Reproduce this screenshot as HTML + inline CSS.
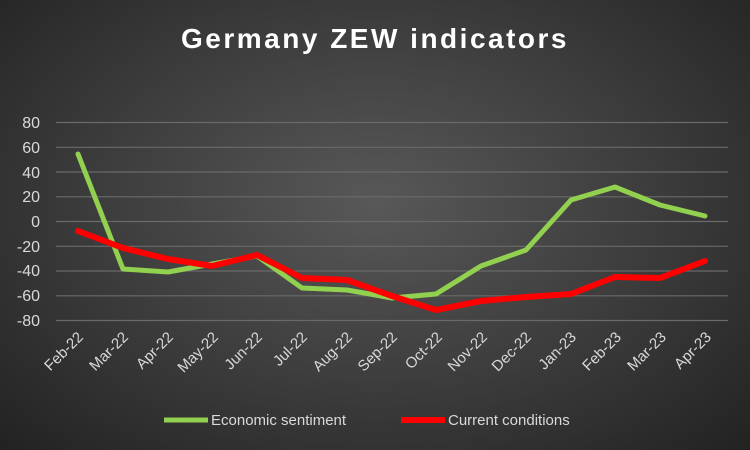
<!DOCTYPE html>
<html><head><style>
html,body{margin:0;padding:0;}
body{width:750px;height:450px;overflow:hidden;background:radial-gradient(ellipse at 50% 45%,#585858 0%,#3b3b3b 55%,#222 100%);font-family:"Liberation Sans",sans-serif;}
</style></head><body>
<svg width="750" height="450" xmlns="http://www.w3.org/2000/svg" style="position:absolute;left:0;top:0">
<text x="375" y="48" text-anchor="middle" fill="#fff" font-size="28" font-weight="bold" font-family="Liberation Sans" letter-spacing="2.5">Germany ZEW indicators</text>
<g stroke="#6a6a6a" stroke-width="1.2">
<line x1="56" x2="728" y1="122.5" y2="122.5"/><line x1="56" x2="728" y1="147.3" y2="147.3"/>
<line x1="56" x2="728" y1="172" y2="172"/><line x1="56" x2="728" y1="196.8" y2="196.8"/>
<line x1="56" x2="728" y1="221.5" y2="221.5"/><line x1="56" x2="728" y1="246.3" y2="246.3"/>
<line x1="56" x2="728" y1="271" y2="271"/><line x1="56" x2="728" y1="295.8" y2="295.8"/>
<line x1="56" x2="728" y1="320.5" y2="320.5"/>
</g>
<g fill="#d9d9d9" font-size="16" text-anchor="end" font-family="Liberation Sans">
<text x="40" y="128">80</text><text x="40" y="153">60</text><text x="40" y="178">40</text><text x="40" y="202">20</text><text x="40" y="227">0</text><text x="40" y="252">-20</text><text x="40" y="276">-40</text><text x="40" y="301">-60</text><text x="40" y="326">-80</text>
</g>
<g fill="#d9d9d9" font-size="15" text-anchor="end" font-family="Liberation Sans">
<text transform="translate(84,338) rotate(-45)">Feb-22</text>
<text transform="translate(129,338) rotate(-45)">Mar-22</text>
<text transform="translate(174,338) rotate(-45)">Apr-22</text>
<text transform="translate(219,338) rotate(-45)">May-22</text>
<text transform="translate(263,338) rotate(-45)">Jun-22</text>
<text transform="translate(308,338) rotate(-45)">Jul-22</text>
<text transform="translate(353,338) rotate(-45)">Aug-22</text>
<text transform="translate(398,338) rotate(-45)">Sep-22</text>
<text transform="translate(443,338) rotate(-45)">Oct-22</text>
<text transform="translate(488,338) rotate(-45)">Nov-22</text>
<text transform="translate(532,338) rotate(-45)">Dec-22</text>
<text transform="translate(577,338) rotate(-45)">Jan-23</text>
<text transform="translate(622,338) rotate(-45)">Feb-23</text>
<text transform="translate(667,338) rotate(-45)">Mar-23</text>
<text transform="translate(712,338) rotate(-45)">Apr-23</text>
</g>
<polyline fill="none" stroke="#92d050" stroke-width="5" stroke-linejoin="round" stroke-linecap="round"
points="78,154 123,269 168,272 212,264 257,256 302,288 347,290 392,298 436,294 481,266 526,250 571,200 615,187 660,205 705,216"/>
<polyline fill="none" stroke="#ff0000" stroke-width="6" stroke-linejoin="round" stroke-linecap="round"
points="78,231 123,248 168,259 212,266 257,255 302,278 347,280 392,296 436,310 481,301 526,297 571,294 615,277 660,278 705,261"/>
<line x1="164" x2="208" y1="420" y2="420" stroke="#92d050" stroke-width="5"/>
<text x="211" y="425" fill="#d9d9d9" font-size="15" font-family="Liberation Sans">Economic sentiment</text>
<line x1="401" x2="445" y1="420" y2="420" stroke="#ff0000" stroke-width="6"/>
<text x="448" y="425" fill="#d9d9d9" font-size="15" font-family="Liberation Sans">Current conditions</text>
</svg>
</body></html>
